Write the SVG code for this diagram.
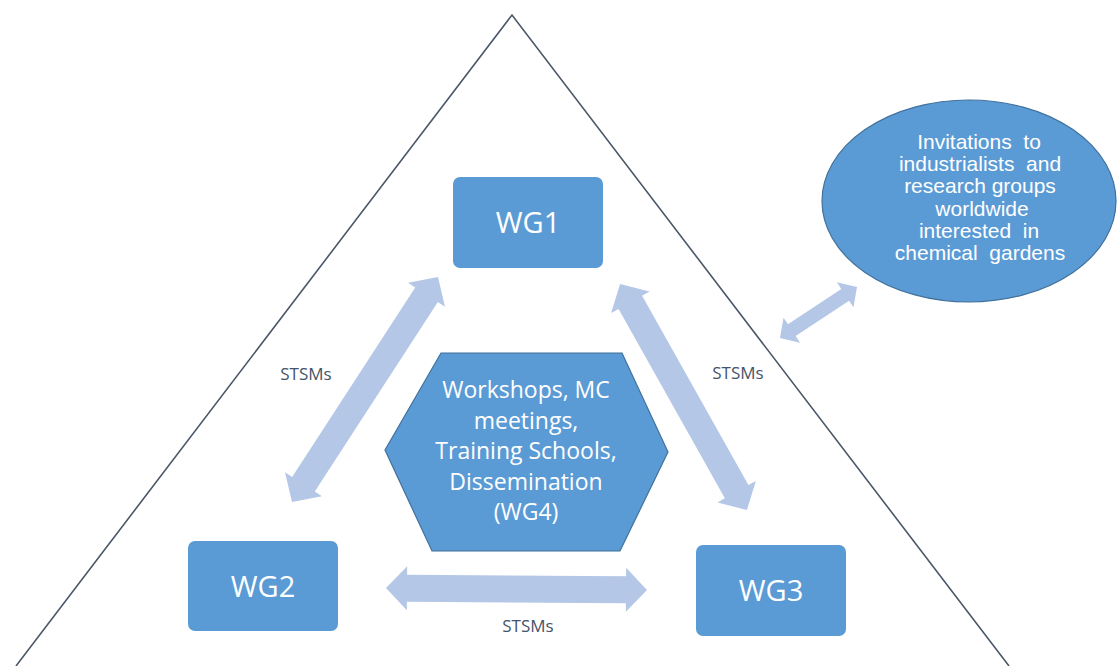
<svg xmlns="http://www.w3.org/2000/svg" width="1117" height="666" viewBox="0 0 1117 666">
  <style>
    .box { fill: #5b9bd5; }
    .shape { fill: #5b9bd5; stroke: #41719c; stroke-width: 1.2; }
    .arrow { fill: #b4c7e7; }
    .wg { font-family: "Open Sans", "Noto Sans", sans-serif; font-size: 29px; fill: #ffffff; text-anchor: middle; }
    .hex { font-family: "Open Sans", "Noto Sans", sans-serif; font-size: 23px; fill: #ffffff; text-anchor: middle; }
    .ell { font-family: "Liberation Sans", Arial, sans-serif; font-size: 21px; fill: #ffffff; text-anchor: middle; white-space: pre; }
    .lbl { font-family: "Open Sans", "Noto Sans", sans-serif; font-size: 17px; fill: #44546a; text-anchor: middle; }
    .tri { fill: none; stroke: #4a5868; stroke-width: 1.6; }
  </style>

  <rect width="1117" height="666" fill="#ffffff"/>

  <g id="triangle">
    <polyline class="tri" points="16,666 512,15 1009,666"/>
  </g>

  <g id="connectors">
    <polygon class="arrow" transform="translate(365,389.5) rotate(-57)" points="-134,0 -113,-22 -113,-13.5 113,-13.5 113,-22 134,0 113,22 113,13.5 -113,13.5 -113,22"/>
    <polygon class="arrow" transform="translate(683.5,397) rotate(60.7)" points="-129.6,0 -108.6,-22 -108.6,-13.5 108.6,-13.5 108.6,-22 129.6,0 108.6,22 108.6,13.5 -108.6,13.5 -108.6,22"/>
    <polygon class="arrow" transform="translate(516.5,589) rotate(0.4)" points="-130.5,0 -109.5,-22 -109.5,-13.5 109.5,-13.5 109.5,-22 130.5,0 109.5,22 109.5,13.5 -109.5,13.5 -109.5,22"/>
    <polygon class="arrow" transform="translate(818.5,312.5) rotate(-33.5)" points="-46.2,0 -32,-15 -32,-7 32,-7 32,-15 46.2,0 32,15 32,7 -32,7 -32,15"/>
    <text class="lbl" x="306" y="380">STSMs</text>
    <text class="lbl" x="738" y="379">STSMs</text>
    <text class="lbl" x="528" y="632">STSMs</text>
  </g>

  <g id="wg1">
    <rect class="box" x="453" y="177" width="150" height="91" rx="7"/>
    <text class="wg" x="528" y="233">WG1</text>
  </g>

  <g id="wg2">
    <rect class="box" x="188" y="541" width="150" height="90" rx="7"/>
    <text class="wg" x="263" y="597">WG2</text>
  </g>

  <g id="wg3">
    <rect class="box" x="696" y="545" width="150" height="91" rx="7"/>
    <text class="wg" x="771" y="601">WG3</text>
  </g>

  <g id="wg4">
    <polygon class="shape" points="441,353 622,353 668,452 620,551 432,551 385,450"/>
    <text class="hex" x="526" y="398">Workshops, MC</text>
    <text class="hex" x="526" y="428.5">meetings,</text>
    <text class="hex" x="526" y="459">Training Schools,</text>
    <text class="hex" x="526" y="489.5">Dissemination</text>
    <text class="hex" x="526" y="520">(WG4)</text>
  </g>

  <g id="invitations">
    <ellipse class="shape" cx="969" cy="201" rx="147" ry="101"/>
    <text class="ell" x="979" y="149">Invitations  to</text>
    <text class="ell" x="980" y="171">industrialists  and</text>
    <text class="ell" x="980" y="193">research groups</text>
    <text class="ell" x="982" y="216">worldwide</text>
    <text class="ell" x="979" y="238">interested  in</text>
    <text class="ell" x="980" y="260">chemical  gardens</text>
  </g>
</svg>
